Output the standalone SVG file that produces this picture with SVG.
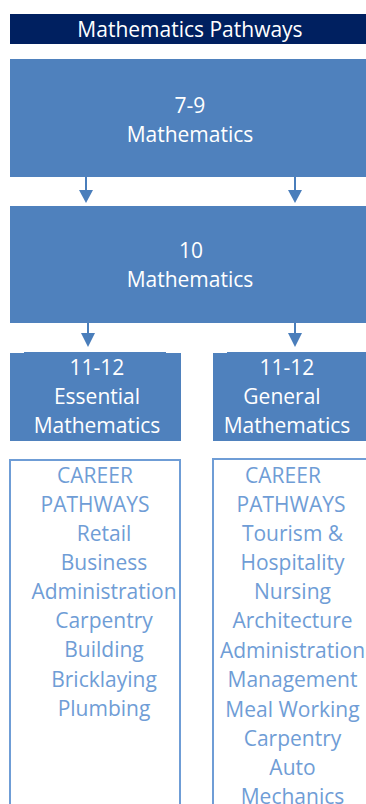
<svg xmlns="http://www.w3.org/2000/svg" width="366" height="804" viewBox="0 0 366 804">
<style>
.t{font-family:"Open Sans","Liberation Sans",sans-serif;font-size:21px;text-anchor:middle}
.w{fill:#FFFFFF}
.c{fill:#6F9DD6}
.box{fill:#4F81BD}
.career{fill:#FFFFFF;stroke:#6F9DD6;stroke-width:2}
.conn line{stroke:#4A7EBB;stroke-width:2}
.conn polygon{fill:#4A7EBB}
</style>
<rect width="366" height="804" fill="#FFFFFF"/>
<g id="title">
<rect x="10" y="14" width="356" height="30" fill="#002060"/>
<text class="t w" x="190" y="37">Mathematics Pathways</text>
</g>
<g id="n79">
<rect class="box" x="10" y="59" width="356" height="118"/>
<text class="t w" x="190" y="113">7-9</text>
<text class="t w" x="190" y="142">Mathematics</text>
</g>
<g id="n10">
<rect class="box" x="10" y="206" width="356" height="117"/>
<text class="t w" x="191" y="258">10</text>
<text class="t w" x="190" y="287">Mathematics</text>
</g>
<g id="essential">
<rect class="box" x="10" y="353" width="171" height="88"/>
<rect class="box" x="24" y="352" width="142" height="2"/>
<text class="t w" x="97" y="375">11-12</text>
<text class="t w" x="97" y="404">Essential</text>
<text class="t w" x="97" y="433">Mathematics</text>
</g>
<g id="general">
<rect class="box" x="213" y="353" width="153" height="88"/>
<rect class="box" x="227" y="352" width="139" height="2"/>
<text class="t w" x="287" y="375">11-12</text>
<text class="t w" x="282" y="404">General</text>
<text class="t w" x="287" y="433">Mathematics</text>
</g>
<g id="career-essential">
<rect class="career" x="10" y="460" width="170" height="360"/>
<text class="t c" x="95" y="483">CAREER</text>
<text class="t c" x="95" y="512">PATHWAYS</text>
<text class="t c" x="104" y="541">Retail</text>
<text class="t c" x="104" y="570">Business</text>
<text class="t c" x="104" y="599">Administration</text>
<text class="t c" x="104" y="628">Carpentry</text>
<text class="t c" x="104" y="657">Building</text>
<text class="t c" x="104" y="687">Bricklaying</text>
<text class="t c" x="104" y="716">Plumbing</text>
</g>
<g id="career-general">
<rect class="career" x="213" y="459" width="160" height="360"/>
<text class="t c" x="283" y="483">CAREER</text>
<text class="t c" x="291" y="512">PATHWAYS</text>
<text class="t c" x="292.5" y="541">Tourism &amp;</text>
<text class="t c" x="292.5" y="570">Hospitality</text>
<text class="t c" x="292.5" y="599">Nursing</text>
<text class="t c" x="292.5" y="628">Architecture</text>
<text class="t c" x="292.5" y="658">Administration</text>
<text class="t c" x="292.5" y="687">Management</text>
<text class="t c" x="292.5" y="717">Meal Working</text>
<text class="t c" x="292.5" y="746">Carpentry</text>
<text class="t c" x="292.5" y="775">Auto</text>
<text class="t c" x="292.5" y="804">Mechanics</text>
</g>
<g id="connectors" class="conn">
<line x1="86" y1="177" x2="86" y2="191"/>
<polygon points="79,190 93,190 86,203"/>
<line x1="295" y1="177" x2="295" y2="191"/>
<polygon points="288,190 302,190 295,203"/>
<line x1="88" y1="323" x2="88" y2="334"/>
<polygon points="81,333 95,333 88,347"/>
<line x1="295" y1="323" x2="295" y2="334"/>
<polygon points="288,333 302,333 295,347"/>
</g>
</svg>
